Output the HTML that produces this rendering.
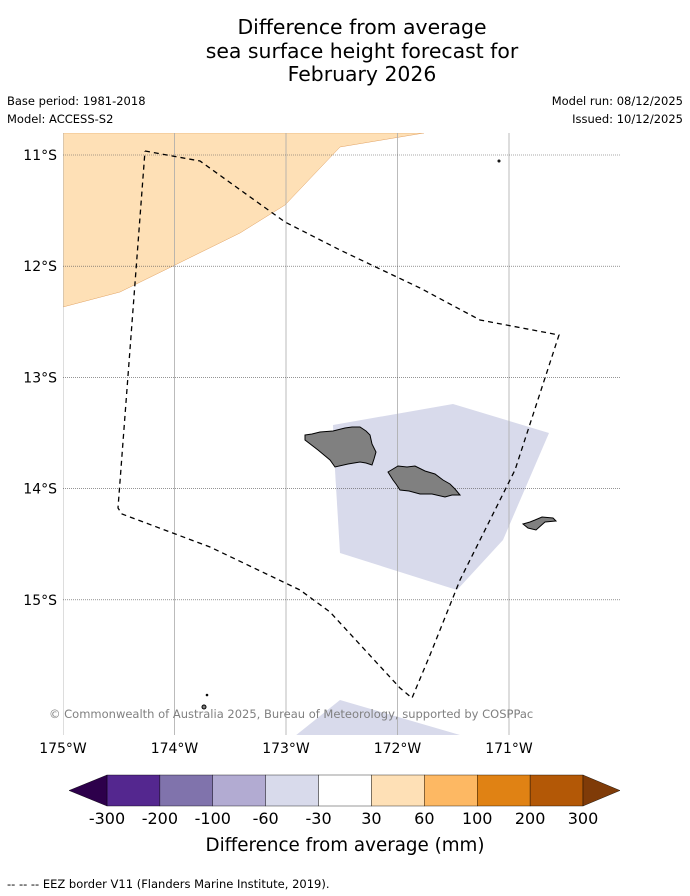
<!DOCTYPE html>
<html><head><meta charset="utf-8"><style>
body{margin:0;background:#fff;font-family:"DejaVu Sans",sans-serif}
svg{display:block}
</style></head><body>
<svg width="690" height="896" xmlns="http://www.w3.org/2000/svg" font-family="DejaVu Sans, sans-serif">
<g font-size="20.4" text-anchor="middle" fill="#000">
<text x="362" y="34">Difference from average</text>
<text x="362" y="58">sea surface height forecast for</text>
<text x="362" y="81">February 2026</text>
</g>
<g font-size="11.5" fill="#000">
<text x="7" y="105">Base period: 1981-2018</text>
<text x="7" y="123">Model: ACCESS-S2</text>
<text x="683" y="105" text-anchor="end">Model run: 08/12/2025</text>
<text x="683" y="123" text-anchor="end">Issued: 10/12/2025</text>
</g>
<defs><clipPath id="mc"><rect x="63" y="133" width="557" height="602"/></clipPath></defs>
<g clip-path="url(#mc)">
<polygon fill="#fee0b6" stroke="#e0a060" stroke-width="0.5" points="63,133 424,133 340,147 285,205 240,233 175,265 120,292 63,307"/>
<polygon fill="#d8daeb" points="333,425 453,404 549,433 503,540 457,590 340,553 335,470"/>
<polygon fill="#d8daeb" points="290,740 340,700 460,735 460,740"/>
<g id="grid"></g>
<g fill="#808080" stroke="#000" stroke-width="1">
<polygon points="305,435 312,434 320,432 333,431 345,428 352,427 360,427 366,431 370,435 372,444 376,452 374,459 372,465 366,463 360,462 348,464 335,467 330,460 318,450 305,440"/>
<polygon points="388,472 393,469 398,466 407,467 415,466 425,471 435,474 443,480 450,484 455,489 460,495 452,495 445,497 432,494 420,494 409,491 400,490 396,484 393,480"/>
<polygon points="523,524 530,522 535,520 542,517 553,518 556,521 545,522 536,530 528,528"/>
<circle cx="499" cy="161" r="1"/><circle cx="204" cy="707" r="2"/><circle cx="207" cy="695" r="0.8"/>
</g>
<polyline fill="none" stroke="#000" stroke-width="1.3" stroke-dasharray="5,4" points="145,151 200,161 285,222 340,250 420,288 480,320 559,335 515,470 460,580 430,655 412,698 400,688 330,612 300,590 210,547 122,514 118,508 145,151"/>
</g>
<text x="49" y="718" font-size="11.5" fill="#808080">© Commonwealth of Australia 2025, Bureau of Meteorology, supported by COSPPac</text>
<g id="axes" font-size="14" fill="#000"></g>
<g id="cbar"></g>
<text x="345" y="851" font-size="18.3" text-anchor="middle">Difference from average (mm)</text>
<text x="7" y="888" font-size="11.5">--  --  -- EEZ border V11 (Flanders Marine Institute, 2019).</text>
</svg>
<script>
const lonTicks=[-175,-174,-173,-172,-171];
const latTicks=[-11,-12,-13,-14,-15];
const cbBounds=[-300,-200,-100,-60,-30,30,60,100,200,300];
const cbColors=["#54278f","#8073ac","#b2abd2","#d8daeb","#ffffff","#fee0b6","#fdb863","#e08214","#b35806"];
const NS="http://www.w3.org/2000/svg";
const xLon=l=>63+(l+175)*111.5;
const yLat=l=>155+(-11-l)*111.2;
function mk(t,a,p){const e=document.createElementNS(NS,t);for(const k in a)e.setAttribute(k,a[k]);p.appendChild(e);return e;}
const grid=document.getElementById('grid'),axes=document.getElementById('axes'),cb=document.getElementById('cbar');
lonTicks.forEach(l=>{const x=xLon(l);
const ln=mk('line',{x1:x,x2:x,y1:133,y2:735,stroke:'#aaa','stroke-width':0.8},grid);


const t=mk('text',{x:x,y:753,'text-anchor':'middle'},axes);t.textContent=Math.abs(l)+'°W';

});
latTicks.forEach(l=>{const y=yLat(l);
const ln=mk('line',{x1:63,x2:620,y1:y,y2:y,stroke:'#555','stroke-width':0.6,'stroke-dasharray':'1,1'},grid);


const t=mk('text',{x:57,y:y+5,'text-anchor':'end'},axes);t.textContent=Math.abs(l)+'°S';

});
const cx0=107,cw=(583-107)/cbColors.length,cy=775,ch=31;
cbColors.forEach((c,i)=>{const r=mk('rect',{x:cx0+i*cw,y:cy,width:cw,height:ch,fill:c,stroke:'#000','stroke-width':0.4},cb);

});
const la=mk('polygon',{points:`${cx0},${cy} 69,${cy+ch/2} ${cx0},${cy+ch}`,fill:'#2d004b',stroke:'#000','stroke-width':0.4},cb);


const ra=mk('polygon',{points:`583,${cy} 620,${cy+ch/2} 583,${cy+ch}`,fill:'#7f3b08',stroke:'#000','stroke-width':0.4},cb);


cbBounds.forEach((b,i)=>{const t=mk('text',{x:cx0+i*cw,y:824,'text-anchor':'middle','font-size':16},cb);t.textContent=b;

});
</script>
</body></html>
